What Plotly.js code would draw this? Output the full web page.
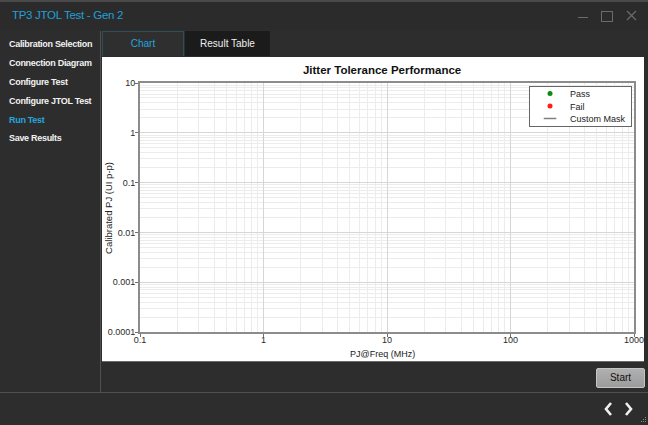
<!DOCTYPE html>
<html>
<head>
<meta charset="utf-8">
<script src="https://cdn.plot.ly/plotly-3.0.1.min.js"></script>
<style>
  html, body { margin:0; padding:0; }
  body { width:648px; height:425px; background:#2d2d2d; position:relative; overflow:hidden;
         font-family:"Liberation Sans", Arial, sans-serif; }
  .abs { position:absolute; }
  #titlebar { left:0; top:0; width:648px; height:30px; background:#2b2b2b; border-top:2px solid #4a4a4a; box-sizing:border-box; }
  #apptitle { left:12px; top:9px; font-size:11.5px; color:#1fa0d8; letter-spacing:-0.3px; white-space:nowrap; }
  #nav div { position:absolute; left:9px; font-size:9px; font-weight:bold; color:#f2f2f2; white-space:nowrap; letter-spacing:-0.3px; }
  #vline { left:100px; top:31px; width:1px; height:361px; background:#505050; }
  #hline { left:0; top:392px; width:648px; height:1px; background:#505050; }
  #tab1 { left:102px; top:31px; width:82px; height:25px; background:#2f2f2f; border:1px solid #2e4f5c; border-bottom:none; box-sizing:border-box;
          color:#25a6df; font-size:10px; text-align:center; line-height:24px; }
  #tab2 { left:185px; top:31px; width:85px; height:25px; background:#1b1b1b; color:#f0f0f0; font-size:10px; text-align:center; line-height:25px; }
  #panel { left:102px; top:57px; width:542px; height:305px; background:#ffffff; }
  #chart { left:102px; top:57px; width:546px; height:305px; }
  #startbtn { left:596px; top:368px; width:49px; height:20px; box-sizing:border-box; border:1px solid #c4c4c4; border-radius:2px;
              background:linear-gradient(#b0b0b0,#9c9c9c); color:#111; font-size:10px; text-align:center; line-height:18px; }
</style>
</head>
<body>
<div id="titlebar" class="abs"></div>
<div id="apptitle" class="abs">TP3 JTOL Test - Gen 2</div>
<div class="abs" style="left:578px;top:17px;width:10px;height:1px;background:#6b6b6b;"></div>
<div class="abs" style="left:601px;top:11px;width:10px;height:9px;border:1px solid #6b6b6b;"></div>
<svg class="abs" style="left:626px;top:10px;" width="12" height="12">
  <path d="M1,1 L10,10 M10,1 L1,10" stroke="#6b6b6b" stroke-width="1.2" fill="none"/>
</svg>

<div id="nav">
  <div style="top:39px;">Calibration Selection</div>
  <div style="top:58px;">Connection Diagram</div>
  <div style="top:77px;">Configure Test</div>
  <div style="top:96px;">Configure JTOL Test</div>
  <div style="top:115px;color:#25a6df;">Run Test</div>
  <div style="top:133px;">Save Results</div>
</div>
<div id="vline" class="abs"></div>
<div id="tab1" class="abs">Chart</div>
<div id="tab2" class="abs">Result Table</div>
<div id="panel" class="abs"></div>
<div id="chart" class="abs"></div>
<div class="abs" style="left:102px;top:361px;width:542px;height:1px;background:#6a6a6a;"></div>
<div id="startbtn" class="abs">Start</div>
<div id="hline" class="abs"></div>
<svg class="abs" style="left:600px;top:400px;" width="40" height="18">
  <polyline points="11,3 6,9 11,15" fill="none" stroke="#f0f0f0" stroke-width="2.6"/>
  <polyline points="26,3 31,9 26,15" fill="none" stroke="#f0f0f0" stroke-width="2.6"/>
</svg>
<svg class="abs" style="left:640px;top:416px;" width="8" height="8">
  <rect x="5" y="1" width="1" height="1" fill="#888"/><rect x="3" y="3" width="1" height="1" fill="#888"/>
  <rect x="5" y="3" width="1" height="1" fill="#888"/><rect x="1" y="5" width="1" height="1" fill="#888"/>
  <rect x="3" y="5" width="1" height="1" fill="#888"/><rect x="5" y="5" width="1" height="1" fill="#888"/>
</svg>

<script>
// ---- data (the chart is empty: no test points yet, so every series holds no value) ----
const passFreqMHz = [null];
const passPJ = [null];
const failFreqMHz = [null];
const failPJ = [null];
const maskFreqMHz = [null];
const maskPJ = [null];
const seriesNames = ['Pass', 'Fail', 'Custom Mask'];
const xTickVals = [0.1, 1, 10, 100, 1000];
const xTickText = ['0.1', '1', '10', '100', '1000'];
const yTickVals = [0.0001, 0.001, 0.01, 0.1, 1, 10];
const yTickText = ['0.0001', '0.001', '0.01', '0.1', '1', '10'];
const chartTitle = 'Jitter Tolerance Performance';
const xTitle = 'PJ@Freq (MHz)';
const yTitle = 'Calibrated PJ (UI p-p)';

const FONT = '"Liberation Sans", Arial, sans-serif';

const traces = [
  { x: passFreqMHz, y: passPJ, name: seriesNames[0], type: 'scatter', mode: 'markers',
    marker: { color: '#0b8a12', size: 5 } },
  { x: failFreqMHz, y: failPJ, name: seriesNames[1], type: 'scatter', mode: 'markers',
    marker: { color: '#ff1c1c', size: 5 } },
  { x: maskFreqMHz, y: maskPJ, name: seriesNames[2], type: 'scatter', mode: 'markers',
    marker: { symbol: 'line-ew', size: 9, color: '#808080', line: { color: '#808080', width: 1.5 } } }
];

function logRange(vals) {
  return [Math.round(Math.log10(vals[0])), Math.round(Math.log10(vals[vals.length - 1]))];
}

function axisCommon() {
  return {
    type: 'log',
    showline: true, mirror: true, linecolor: '#8c8c8c', linewidth: 2,
    ticks: 'outside', ticklen: 3, tickcolor: '#707070', tickwidth: 1,
    showgrid: true, gridcolor: '#d6d6d6', gridwidth: 1,
    zeroline: false,
    tickmode: 'array',
    ticklabeloverflow: 'allow',
    tickfont: { family: FONT, size: 9, color: '#2a2a2a' },
    minor: { dtick: 'D1', showgrid: true, gridcolor: '#ececec', gridwidth: 1, ticks: '' },
    automargin: false,
    fixedrange: true
  };
}

const xaxis = Object.assign(axisCommon(), {
  range: logRange(xTickVals), tickvals: xTickVals, ticktext: xTickText, ticklabelstandoff: -5
});
const yaxis = Object.assign(axisCommon(), {
  range: logRange(yTickVals), tickvals: yTickVals, ticktext: yTickText, ticklabelstandoff: -2
});

const layout = {
  width: 546, height: 305,
  margin: { l: 38, r: 14, t: 26, b: 30 },
  paper_bgcolor: 'rgba(0,0,0,0)', plot_bgcolor: '#ffffff',
  title: { text: '<b>' + chartTitle + '</b>', xref: 'paper', yref: 'paper', x: 0.49, y: 1.068,
           xanchor: 'center', yanchor: 'middle', font: { family: FONT, size: 11.5, color: '#111' } },
  xaxis: xaxis,
  yaxis: yaxis,
  showlegend: true,
  legend: { x: 0.996, y: 0.988, xanchor: 'right', yanchor: 'top', bgcolor: '#ffffff',
            bordercolor: '#666666', borderwidth: 1, font: { family: FONT, size: 9, color: '#222' },
            itemwidth: 30, tracegroupgap: 0 },
  annotations: [
    { text: xTitle, xref: 'paper', yref: 'paper', x: 0.49, y: -0.088, xanchor: 'center', yanchor: 'middle',
      showarrow: false, font: { family: FONT, size: 9, color: '#222' } },
    { text: yTitle, xref: 'paper', yref: 'paper', x: -0.063, y: 0.498, xanchor: 'center', yanchor: 'middle',
      textangle: -90, showarrow: false, font: { family: FONT, size: 9.5, color: '#222' } }
  ]
};

Plotly.newPlot('chart', traces, layout, { displayModeBar: false, staticPlot: true }).then(function (gd) {
  // compact legend rows (the application's legend uses ~12.5px rows)
  var leg = gd.querySelector('.legend');
  if (!leg) return;
  var items = leg.querySelectorAll('g.traces');
  var rowH = 12.5, firstY = null;
  items.forEach(function (el, i) {
    var t = el.getAttribute('transform') || '';
    var m = t.match(/translate\(\s*([-\d.e]+)[,\s]+([-\d.e]+)\s*\)/);
    if (!m) return;
    var x = parseFloat(m[1]), y = parseFloat(m[2]);
    if (firstY === null) firstY = y - 8;
    el.setAttribute('transform', 'translate(' + x + ',' + (firstY + i * rowH) + ')');
  });
  var bg = leg.querySelector('rect.bg');
  if (bg) bg.setAttribute('height', 40);
});
</script>
</body>
</html>
